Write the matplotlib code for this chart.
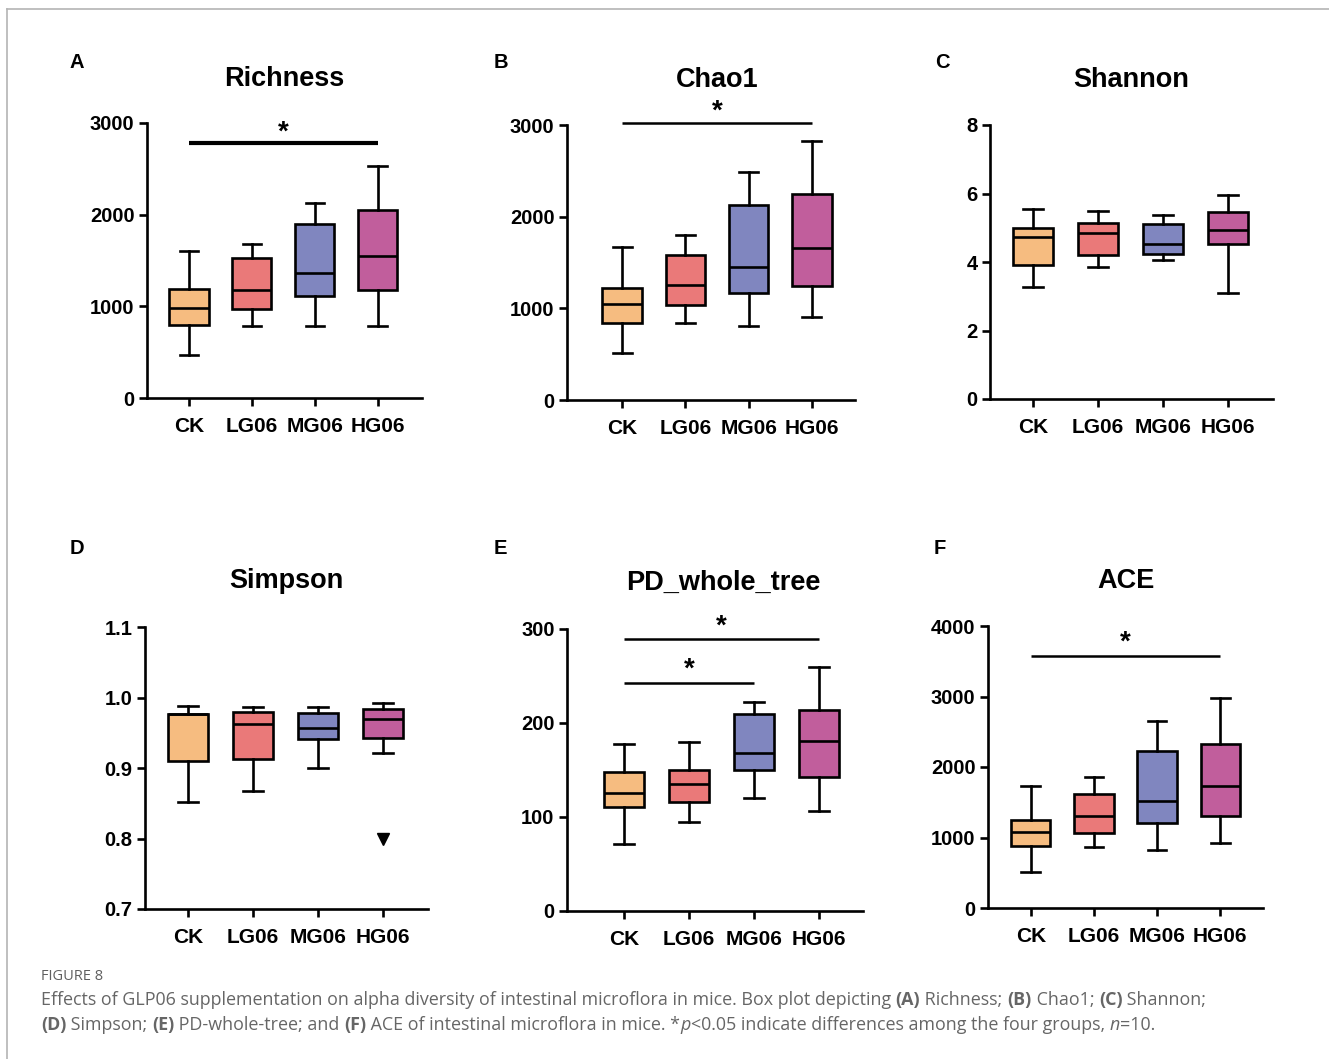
import matplotlib
matplotlib.use("Agg")
import matplotlib.pyplot as plt
from matplotlib.lines import Line2D

W, H = 1329, 1059
plt.rcParams['font.family'] = ['Liberation Sans', 'DejaVu Sans']

groups = ["CK", "LG06", "MG06", "HG06"]
colors = ["#F6BC80", "#EA7979", "#8086BF", "#C15E9C"]

# box stats per panel: whislo, q1, median, q3, whishi (per group)
rich_lo = [465, 781, 781, 781]
rich_q1 = [792, 971, 1108, 1174]
rich_med = [982, 1174, 1364, 1545]
rich_q3 = [1193, 1523, 1901, 2054]
rich_hi = [1599, 1683, 2127, 2527]

chao_lo = [510, 842, 802, 904]
chao_q1 = [842, 1032, 1167, 1243]
chao_med = [1050, 1254, 1451, 1662]
chao_q3 = [1225, 1579, 2125, 2242]
chao_hi = [1670, 1801, 2490, 2825]

shan_lo = [3.26, 3.84, 4.05, 3.10]
shan_q1 = [3.91, 4.20, 4.23, 4.52]
shan_med = [4.73, 4.85, 4.54, 4.93]
shan_q3 = [4.98, 5.14, 5.10, 5.46]
shan_hi = [5.56, 5.49, 5.36, 5.95]

simp_lo = [0.852, 0.868, 0.900, 0.921]
simp_q1 = [0.910, 0.913, 0.941, 0.942]
simp_med = [0.976, 0.962, 0.957, 0.970]
simp_q3 = [0.977, 0.979, 0.978, 0.984]
simp_hi = [0.988, 0.986, 0.987, 0.992]
simp_out = [[], [], [], [0.800]]

pd_lo = [71, 95, 120, 106]
pd_q1 = [111, 116, 150, 143]
pd_med = [126, 135, 168, 181]
pd_q3 = [148, 150, 210, 214]
pd_hi = [178, 180, 222, 260]

ace_lo = [510, 864, 817, 921]
ace_q1 = [874, 1067, 1204, 1299]
ace_med = [1081, 1299, 1511, 1733]
ace_q3 = [1242, 1620, 2234, 2328]
ace_hi = [1724, 1865, 2654, 2985]

# significance: (group i, group j, y of bar, y of star)
rich_sig = [(0, 3, 2782, 2900)]
chao_sig = [(0, 3, 3018, 3150)]
pd_sig = [(0, 3, 289, 303), (0, 2, 243, 257)]
ace_sig = [(0, 3, 3580, 3760)]

panels = [
    # letter, title, letter xy, title xy, axes px (left, top, right, bottom), xlim, ylim, yticks, ticklabels, stats, outliers, sig, sig lw
    ("A", "Richness", (77, 62), (284, 79), (147, 123, 422, 398), (-0.667, 3.70), (0, 3000),
     [0, 1000, 2000, 3000], None, (rich_lo, rich_q1, rich_med, rich_q3, rich_hi), None, rich_sig, 3.0),
    ("B", "Chao1", (501, 62), (717, 80), (567, 125, 855, 400), (-0.87, 3.68), (0, 3000),
     [0, 1000, 2000, 3000], None, (chao_lo, chao_q1, chao_med, chao_q3, chao_hi), None, chao_sig, 1.8),
    ("C", "Shannon", (942, 62), (1131, 80), (990, 125, 1273, 399), (-0.66, 3.69), (0, 8),
     [0, 2, 4, 6, 8], None, (shan_lo, shan_q1, shan_med, shan_q3, shan_hi), None, [], 1.8),
    ("D", "Simpson", (77, 549), (286, 581), (145, 627, 428, 909), (-0.66, 3.69), (0.7, 1.1),
     [0.7, 0.8, 0.9, 1.0, 1.1], ["0.7", "0.8", "0.9", "1.0", "1.1"],
     (simp_lo, simp_q1, simp_med, simp_q3, simp_hi), simp_out, [], 1.8),
    ("E", "PD_whole_tree", (500, 549), (723, 583), (567, 629, 863, 911), (-0.877, 3.68), (0, 300),
     [0, 100, 200, 300], None, (pd_lo, pd_q1, pd_med, pd_q3, pd_hi), None, pd_sig, 1.8),
    ("F", "ACE", (940, 549), (1126, 581), (988, 626, 1263, 908), (-0.68, 3.68), (0, 4000),
     [0, 1000, 2000, 3000, 4000], None, (ace_lo, ace_q1, ace_med, ace_q3, ace_hi), None, ace_sig, 1.8),
]

fig = plt.figure(figsize=(W / 100, H / 100), dpi=100)

# thin frame around the figure (top and left edges)
fig.add_artist(Line2D([7 / W, 1], [1 - 9 / H, 1 - 9 / H], color="#b4b4b4", lw=1.2))
fig.add_artist(Line2D([7 / W, 7 / W], [0, 1 - 9 / H], color="#b4b4b4", lw=1.2))

for (letter, title, lxy, txy, box, xlim, ylim, yt, ytl, st, outl, sig, slw) in panels:
    l, t, r, b = box
    ax = fig.add_axes([l / W, 1 - b / H, (r - l) / W, (b - t) / H])
    lo, q1, med, q3, hi = st
    stats = []
    for i in range(4):
        stats.append(dict(whislo=lo[i], q1=q1[i], med=med[i], q3=q3[i], whishi=hi[i],
                          fliers=(outl[i] if outl else [])))
    art = ax.bxp(stats, positions=range(4), widths=0.62, patch_artist=True,
                 showfliers=True,
                 boxprops=dict(linewidth=1.9, edgecolor="black"),
                 medianprops=dict(linewidth=1.9, color="black"),
                 whiskerprops=dict(linewidth=1.9, color="black"),
                 capprops=dict(linewidth=1.9, color="black"),
                 capwidths=0.3,
                 flierprops=dict(marker="v", markersize=9, markerfacecolor="black",
                                 markeredgecolor="black"))
    for p, c in zip(art["boxes"], colors):
        p.set_facecolor(c)
    for fl in art["fliers"]:
        fl.set_clip_on(False)
    ax.set_xlim(*xlim)
    ax.set_ylim(*ylim)
    ax.set_yticks(yt)
    if ytl:
        ax.set_yticklabels(ytl)
    ax.set_xticks(range(4))
    ax.set_xticklabels(groups)
    for s in ["top", "right"]:
        ax.spines[s].set_visible(False)
    for s in ["left", "bottom"]:
        ax.spines[s].set_linewidth(1.9)
    ax.tick_params(width=1.9, length=6, labelsize=14.5, pad=3)
    ax.tick_params(axis="x", pad=7.5, labelsize=15)
    for lab in ax.get_xticklabels() + ax.get_yticklabels():
        lab.set_fontweight("bold")
    for (i, j, yb, ys) in sig:
        ax.plot([i, j], [yb, yb], color="black", lw=slw, clip_on=False, solid_capstyle="butt")
        ax.text((i + j) / 2, ys, "*", ha="center", va="center", fontsize=20,
                fontweight="bold", clip_on=False)
    fig.text(lxy[0] / W, 1 - lxy[1] / H, letter, ha="center", va="center",
             fontsize=14.5, fontweight="bold")
    fig.text(txy[0] / W, 1 - txy[1] / H, title, ha="center", va="center",
             fontsize=19.5, fontweight="bold")

# caption
cap_font = ["Open Sans", "DejaVu Sans"]
fig.text(41 / W, 1 - 977 / H, "FIGURE 8", ha="left", va="center", fontsize=10.5,
         color="#5f5f5f", family=cap_font)

line1 = [("Effects of GLP06 supplementation on alpha diversity of intestinal microflora in mice. Box plot depicting ", "normal", "normal"),
         ("(A)", "bold", "normal"), (" Richness; ", "normal", "normal"),
         ("(B)", "bold", "normal"), (" Chao1; ", "normal", "normal"),
         ("(C)", "bold", "normal"), (" Shannon;", "normal", "normal")]
line2 = [("(D)", "bold", "normal"), (" Simpson; ", "normal", "normal"),
         ("(E)", "bold", "normal"), (" PD-whole-tree; and ", "normal", "normal"),
         ("(F)", "bold", "normal"), (" ACE of intestinal microflora in mice. *", "normal", "normal"),
         ("p", "normal", "italic"), ("<0.05 indicate differences among the four groups, ", "normal", "normal"),
         ("n", "normal", "italic"), ("=10.", "normal", "normal")]

renderer = fig.canvas.get_renderer()
for yline, pieces in [(1000, line1), (1025, line2)]:
    x = 41
    for txt, wt, sty in pieces:
        tt = fig.text(x / W, 1 - yline / H, txt, ha="left", va="center", fontsize=12.9,
                      color="#666666", family=cap_font, fontweight=wt, style=sty)
        bb = tt.get_window_extent(renderer=renderer)
        x = x + bb.width

fig.savefig("out.png", dpi=100)
